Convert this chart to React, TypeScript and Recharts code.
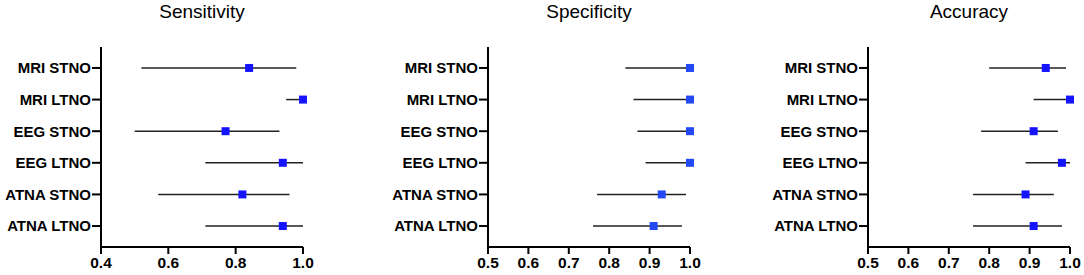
import React from 'react';
import {
  ErrorBar,
  Scatter,
  ScatterChart,
  XAxis,
  YAxis,
  ZAxis,
} from 'recharts';

const categories = [
  'MRI STNO',
  'MRI LTNO',
  'EEG STNO',
  'EEG LTNO',
  'ATNA STNO',
  'ATNA LTNO',
];

const sensitivity = [0.84, 1.0, 0.77, 0.94, 0.82, 0.94];
const sensitivityLow = [0.52, 0.95, 0.5, 0.71, 0.57, 0.71];
const sensitivityHigh = [0.98, 1.0, 0.93, 1.0, 0.96, 1.0];

const specificity = [1.0, 1.0, 1.0, 1.0, 0.93, 0.91];
const specificityLow = [0.84, 0.86, 0.87, 0.89, 0.77, 0.76];
const specificityHigh = [1.0, 1.0, 1.0, 1.0, 0.99, 0.98];

const accuracy = [0.94, 1.0, 0.91, 0.98, 0.89, 0.91];
const accuracyLow = [0.8, 0.91, 0.78, 0.89, 0.76, 0.76];
const accuracyHigh = [0.99, 1.0, 0.97, 1.0, 0.96, 0.98];

const sensTicks = [0.4, 0.6, 0.8, 1.0];
const tenthTicks = [0.5, 0.6, 0.7, 0.8, 0.9, 1.0];
const rowTicks = [1, 2, 3, 4, 5, 6];

const FONT = '"Liberation Sans", Arial, sans-serif';

interface PanelProps {
  title: string;
  values: number[];
  low: number[];
  high: number[];
  ticks: number[];
  left: number;
  axisWidth: number;
  color: string;
}

const Panel = ({ title, values, low, high, ticks, left, axisWidth, color }: PanelProps) => {
  const data = values.map((v, i) => ({
    x: v,
    y: i + 1,
    err: [v - low[i], high[i] - v],
  }));
  const plotW = 202;

  return (
    <div style={{ position: 'absolute', left, top: 0 }}>
      <div
        style={{
          position: 'absolute',
          left: axisWidth,
          width: plotW,
          top: 2,
          textAlign: 'center',
          fontFamily: FONT,
          fontSize: 19,
          lineHeight: '19px',
          color: '#000',
          whiteSpace: 'nowrap',
        }}
      >
        {title}
      </div>
      <ScatterChart
        width={axisWidth + plotW + 20}
        height={275}
        margin={{ top: 47, right: 20, bottom: 0, left: 0 }}
      >
        <XAxis
          type="number"
          dataKey="x"
          domain={[ticks[0], 1.0]}
          ticks={ticks}
          tickFormatter={(v: number) => v.toFixed(1)}
          height={28}
          axisLine={{ stroke: '#000', strokeWidth: 2 }}
          tickLine={{ stroke: '#000', strokeWidth: 2 }}
          tickSize={7}
          tickMargin={3}
          tick={{ fill: '#000', fontSize: 15.5, fontWeight: 700, fontFamily: FONT }}
        />
        <YAxis
          type="number"
          dataKey="y"
          domain={[0.337, 6.663]}
          ticks={rowTicks}
          reversed
          tickFormatter={(v: number) => categories[v - 1]}
          width={axisWidth}
          axisLine={{ stroke: '#000', strokeWidth: 2 }}
          tickLine={{ stroke: '#000', strokeWidth: 2 }}
          tickSize={9}
          tickMargin={1}
          tick={{ fill: '#000', fontSize: 15, fontWeight: 700, fontFamily: FONT }}
        />
        <ZAxis range={[64, 64]} />
        <Scatter data={data} fill={color} shape="square" isAnimationActive={false}>
          <ErrorBar
            dataKey="err"
            direction="x"
            width={0}
            stroke="#222"
            strokeWidth={1.5}
          />
        </Scatter>
      </ScatterChart>
    </div>
  );
};

export default function App() {
  return (
    <div style={{ position: 'relative', width: 1084, height: 275, background: '#fff' }}>
      <style>{'body{margin:0;}'}</style>
      <Panel
        title="Sensitivity"
        values={sensitivity}
        low={sensitivityLow}
        high={sensitivityHigh}
        ticks={sensTicks}
        left={0}
        axisWidth={101}
        color="#1414ff"
      />
      <Panel
        title="Specificity"
        values={specificity}
        low={specificityLow}
        high={specificityHigh}
        ticks={tenthTicks}
        left={360}
        axisWidth={128}
        color="#2448f2"
      />
      <Panel
        title="Accuracy"
        values={accuracy}
        low={accuracyLow}
        high={accuracyHigh}
        ticks={tenthTicks}
        left={720}
        axisWidth={148}
        color="#1414ff"
      />
    </div>
  );
}
